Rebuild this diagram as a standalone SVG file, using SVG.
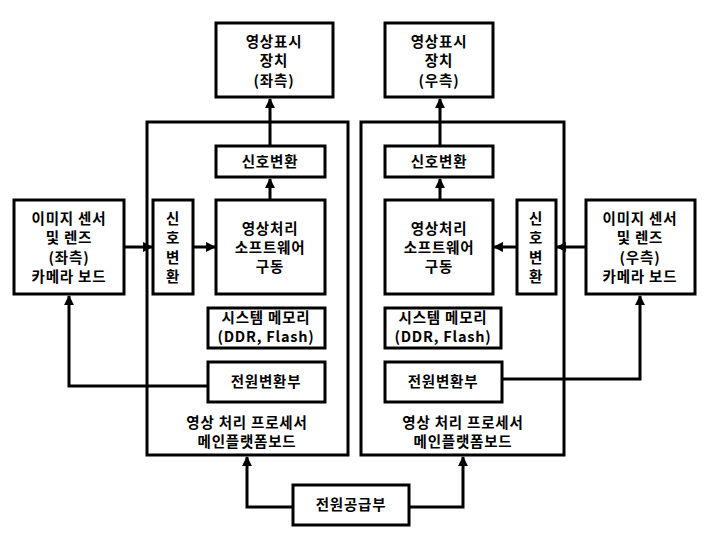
<svg xmlns="http://www.w3.org/2000/svg" width="708" height="544" viewBox="0 0 708 544">
<style>
.box{fill:#fff;stroke:#000;stroke-width:3}
.board{fill:none;stroke:#000;stroke-width:3}
.ln{fill:none;stroke:#000;stroke-width:3}
text{font-family:"Noto Sans CJK KR","Liberation Sans",sans-serif;font-size:14.5px;font-weight:700;text-anchor:middle;fill:#000;letter-spacing:0.8px}
</style>
<defs>
<marker id="ah" viewBox="0 0 10 10" refX="9" refY="5" markerWidth="3.3" markerHeight="3.3" orient="auto" markerUnits="strokeWidth">
<path d="M0,0 L10,5 L0,10 z" fill="#000"/>
</marker>
</defs>
<rect x="0" y="0" width="708" height="544" fill="#fff"/>
<g id="connectors">
<line class="ln" x1="270" y1="146" x2="270" y2="99" marker-end="url(#ah)"/>
<line class="ln" x1="270" y1="200" x2="270" y2="179" marker-end="url(#ah)"/>
<line class="ln" x1="124" y1="247" x2="152" y2="247" marker-end="url(#ah)"/>
<line class="ln" x1="193" y1="247" x2="215" y2="247" marker-end="url(#ah)"/>
<polyline class="ln" points="208,386 69,386 69,296" marker-end="url(#ah)"/>
<line class="ln" x1="440" y1="146" x2="440" y2="99" marker-end="url(#ah)"/>
<line class="ln" x1="440" y1="200" x2="440" y2="179" marker-end="url(#ah)"/>
<line class="ln" x1="586" y1="247" x2="557" y2="247" marker-end="url(#ah)"/>
<line class="ln" x1="517" y1="247" x2="494" y2="247" marker-end="url(#ah)"/>
<polyline class="ln" points="502,379 640,379 640,296" marker-end="url(#ah)"/>
<polyline class="ln" points="293,507 247,507 247,457" marker-end="url(#ah)"/>
<polyline class="ln" points="409,507 463,507 463,457" marker-end="url(#ah)"/>
</g>
<g id="board-left">
<rect class="board" x="147" y="122" width="201" height="333"/>
<text x="247" y="428">영상 처리 프로세서</text>
<text x="247" y="447">메인플랫폼보드</text>
</g>
<g id="board-right">
<rect class="board" x="361" y="122" width="203" height="333"/>
<text x="463" y="428">영상 처리 프로세서</text>
<text x="463" y="447">메인플랫폼보드</text>
</g>
<g id="display-left">
<rect class="box" x="216" y="23" width="117" height="74"/>
<text x="274" y="47">영상표시</text>
<text x="274" y="66">장치</text>
<text x="274" y="86">(좌측)</text>
</g>
<g id="display-right">
<rect class="box" x="385" y="23" width="108" height="74"/>
<text x="439" y="47">영상표시</text>
<text x="439" y="66">장치</text>
<text x="439" y="86">(우측)</text>
</g>
<g id="sigconv-top-left">
<rect class="box" x="216" y="146" width="109" height="31"/>
<text x="270" y="167">신호변환</text>
</g>
<g id="sigconv-top-right">
<rect class="box" x="385" y="146" width="108" height="31"/>
<text x="439" y="167">신호변환</text>
</g>
<g id="camera-left">
<rect class="box" x="14" y="200" width="110" height="94"/>
<text x="69" y="224">이미지 센서</text>
<text x="69" y="243">및 렌즈</text>
<text x="69" y="263">(좌측)</text>
<text x="69" y="282">카메라 보드</text>
</g>
<g id="camera-right">
<rect class="box" x="586" y="200" width="109" height="94"/>
<text x="640" y="224">이미지 센서</text>
<text x="640" y="243">및 렌즈</text>
<text x="640" y="263">(우측)</text>
<text x="640" y="282">카메라 보드</text>
</g>
<g id="sigconv-v-left">
<rect class="box" x="153" y="200" width="40" height="94"/>
<text x="173" y="224">신</text>
<text x="173" y="243">호</text>
<text x="173" y="263">변</text>
<text x="173" y="282">환</text>
</g>
<g id="sigconv-v-right">
<rect class="box" x="517" y="200" width="39" height="94"/>
<text x="536" y="224">신</text>
<text x="536" y="243">호</text>
<text x="536" y="263">변</text>
<text x="536" y="282">환</text>
</g>
<g id="proc-left">
<rect class="box" x="216" y="200" width="109" height="94"/>
<text x="270" y="234">영상처리</text>
<text x="270" y="253">소프트웨어</text>
<text x="270" y="272">구동</text>
</g>
<g id="proc-right">
<rect class="box" x="385" y="200" width="108" height="94"/>
<text x="439" y="234">영상처리</text>
<text x="439" y="253">소프트웨어</text>
<text x="439" y="272">구동</text>
</g>
<g id="mem-left">
<rect class="box" x="208" y="308" width="117" height="40"/>
<text x="266" y="323">시스템 메모리</text>
<text x="266" y="342">(DDR, Flash)</text>
</g>
<g id="mem-right">
<rect class="box" x="385" y="308" width="116" height="40"/>
<text x="443" y="323">시스템 메모리</text>
<text x="443" y="342">(DDR, Flash)</text>
</g>
<g id="pwrconv-left">
<rect class="box" x="208" y="362" width="117" height="40"/>
<text x="266" y="387">전원변환부</text>
</g>
<g id="pwrconv-right">
<rect class="box" x="385" y="362" width="117" height="40"/>
<text x="443" y="387">전원변환부</text>
</g>
<g id="power-supply">
<rect class="box" x="293" y="485" width="116" height="40"/>
<text x="351" y="510">전원공급부</text>
</g>
</svg>
